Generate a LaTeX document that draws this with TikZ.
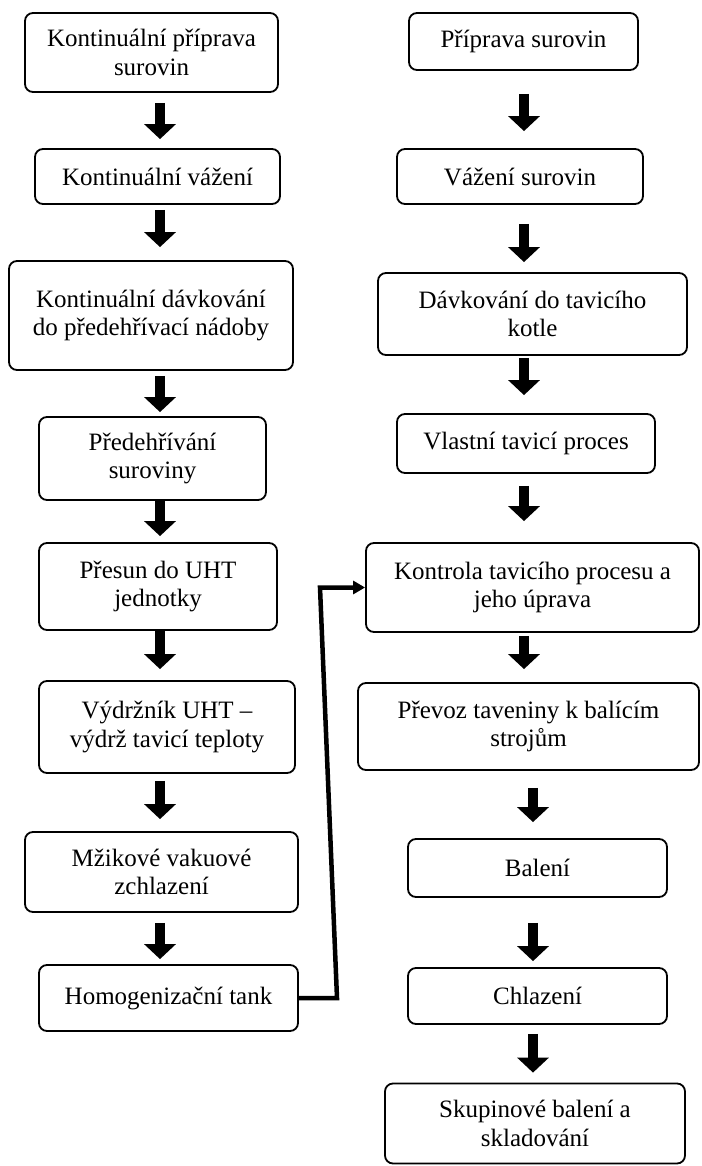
\documentclass[tikz,border=0pt]{standalone}
\usepackage{fontspec}
\setmainfont{Liberation Serif}
\usepackage{tikz}
\usetikzlibrary{arrows.meta}
\usetikzlibrary{positioning}
\tikzset{
    stepbox/.style={draw=black, line width=1.8pt, rounded corners=8pt, align=center,
        inner sep=0pt, font=\fontsize{25}{28.5}\selectfont},
    fatarrow/.style={draw=black, line width=10pt,
        -{Triangle[width=31pt,length=15pt]}},
    feedline/.style={draw=black, line width=4.5pt,
        -{Triangle[width=13pt,length=12pt]}},
}

\begin{document}
\begin{tikzpicture}[x=1pt, y=-1pt]
	\useasboundingbox (0,0) rectangle (701,1166);
	% left column
	\node[stepbox, minimum width=253pt, minimum height=79pt] (L1) at (151.5,52.5) {Kontinuální příprava\\surovin};
	\node[stepbox, minimum width=245pt, minimum height=55pt] (L2) at (157.5,176.5) {Kontinuální vážení};
	\node[stepbox, minimum width=284pt, minimum height=109pt] (L3) at (151,315.5) {Kontinuální dávkování\\do předehřívací nádoby};
	\node[stepbox, minimum width=227pt, minimum height=83pt] (L4) at (152.5,458.5) {Předehřívání\\suroviny};
	\node[stepbox, minimum width=238pt, minimum height=87pt] (L5) at (158,586.5) {Přesun do UHT\\jednotky};
	\node[stepbox, minimum width=256pt, minimum height=92pt] (L6) at (167,727) {Výdržník UHT --\\výdrž tavicí teploty};
	\node[stepbox, minimum width=273pt, minimum height=80pt] (L7) at (161.5,872) {Mžikové vakuové\\zchlazení};
	\node[stepbox, minimum width=259pt, minimum height=66pt] (L8) at (168.5,998) {Homogenizační tank};
	% right column
	\node[stepbox, minimum width=229pt, minimum height=57pt] (R1) at (523.5,41.5) {Příprava surovin};
	\node[stepbox, minimum width=246pt, minimum height=55pt] (R2) at (520,176.5) {Vážení surovin};
	\node[stepbox, minimum width=309pt, minimum height=82pt] (R3) at (532.5,314) {Dávkování do tavicího\\kotle};
	\node[stepbox, minimum width=258pt, minimum height=59pt] (R4) at (526,443.5) {Vlastní tavicí proces};
	\node[stepbox, minimum width=333pt, minimum height=89pt] (R5) at (532.5,587.5) {Kontrola tavicího procesu a\\jeho úprava};
	\node[stepbox, minimum width=341pt, minimum height=87pt] (R6) at (528.5,726.5) {Převoz taveniny k balícím\\strojům};
	\node[stepbox, minimum width=259pt, minimum height=58pt] (R7) at (537.5,868) {Balení};
	\node[stepbox, minimum width=259pt, minimum height=56pt] (R8) at (537.5,996) {Chlazení};
	\node[stepbox, minimum width=300pt, minimum height=80pt] (R9) at (535,1123.5) {Skupinové balení a\\skladování};
	% arrow columns
	\coordinate (colL) at (160,0);
	\coordinate (colR) at (524,0);
	\coordinate (colRR) at (533,0);
	\draw[fatarrow, shorten <=10pt, shorten >=9pt] (L1.south -| colL) -- (L2.north -| colL);
	\draw[fatarrow, shorten <=5pt, shorten >=13pt] (L2.south -| colL) -- (L3.north -| colL);
	\draw[fatarrow, shorten <=5pt, shorten >=4pt] (L3.south -| colL) -- (L4.north -| colL);
	\draw[fatarrow, shorten >=6pt] (L4.south -| colL) -- (L5.north -| colL);
	\draw[fatarrow, shorten >=11pt] (L5.south -| colL) -- (L6.north -| colL);
	\draw[fatarrow, shorten <=7pt, shorten >=12pt] (L6.south -| colL) -- (L7.north -| colL);
	\draw[fatarrow, shorten <=10pt, shorten >=5pt] (L7.south -| colL) -- (L8.north -| colL);
	\draw[fatarrow, shorten <=23pt, shorten >=17pt] (R1.south -| colR) -- (R2.north -| colR);
	\draw[fatarrow, shorten <=19pt, shorten >=10pt] (R2.south -| colR) -- (R3.north -| colR);
	\draw[fatarrow, shorten <=2pt, shorten >=18pt] (R3.south -| colR) -- (R4.north -| colR);
	\draw[fatarrow, shorten <=12pt, shorten >=21pt] (R4.south -| colR) -- (R5.north -| colR);
	\draw[fatarrow, shorten <=3pt, shorten >=13pt] (R5.south -| colR) -- (R6.north -| colR);
	\draw[fatarrow, shorten <=17pt, shorten >=16pt] (R6.south -| colRR) -- (R7.north -| colRR);
	\draw[fatarrow, shorten <=25pt, shorten >=6pt] (R7.south -| colRR) -- (R8.north -| colRR);
	\draw[fatarrow, shorten <=9pt, shorten >=10pt] (R8.south -| colRR) -- (R9.north -| colRR);
	% feed from the left line into the right one
	\coordinate (fbot) at (337,998);
	\coordinate (ftop) at (320,587.5);
	\draw[feedline] (L8.east) -- (fbot) -- (ftop) -- (R5.west);
\end{tikzpicture}
\end{document}
